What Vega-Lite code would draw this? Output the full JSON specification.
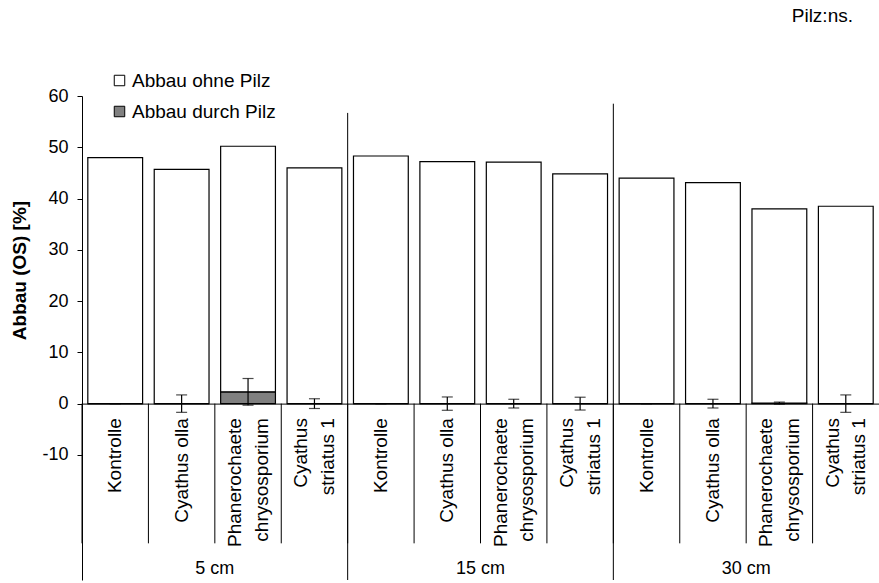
{
  "$schema": "https://vega.github.io/schema/vega-lite/v6.json",
  "width": 797,
  "height": 484,
  "autosize": {"type": "none"},
  "padding": {"left": 82, "top": 96, "right": 0, "bottom": 3},
  "background": "white",
  "title": {"text": "Pilz:ns.", "anchor": "end", "frame": "group", "orient": "top", "offset": 30, "dx": -26, "fontSize": 19, "fontWeight": "normal", "font": "Liberation Sans", "color": "black", "baseline": "alphabetic"},
  "config": {"view": {"stroke": null}, "font": "Liberation Sans"},
  "data": {"values": [
    {"id": "5 cm|Kontrolle", "depth": "5 cm", "fungus": "Kontrolle", "Abbau ohne Pilz": 48.0, "Abbau durch Pilz": 0.0, "err": 0.0},
    {"id": "5 cm|Cyathus olla", "depth": "5 cm", "fungus": "Cyathus olla", "Abbau ohne Pilz": 45.7, "Abbau durch Pilz": 0.0, "err": 1.7},
    {"id": "5 cm|Phanerochaete chrysosporium", "depth": "5 cm", "fungus": "Phanerochaete chrysosporium", "Abbau ohne Pilz": 47.9, "Abbau durch Pilz": 2.3, "err": 2.6},
    {"id": "5 cm|Cyathus striatus 1", "depth": "5 cm", "fungus": "Cyathus striatus 1", "Abbau ohne Pilz": 46.0, "Abbau durch Pilz": 0.0, "err": 0.95},
    {"id": "15 cm|Kontrolle", "depth": "15 cm", "fungus": "Kontrolle", "Abbau ohne Pilz": 48.3, "Abbau durch Pilz": 0.0, "err": 0.0},
    {"id": "15 cm|Cyathus olla", "depth": "15 cm", "fungus": "Cyathus olla", "Abbau ohne Pilz": 47.2, "Abbau durch Pilz": 0.0, "err": 1.3},
    {"id": "15 cm|Phanerochaete chrysosporium", "depth": "15 cm", "fungus": "Phanerochaete chrysosporium", "Abbau ohne Pilz": 47.1, "Abbau durch Pilz": 0.0, "err": 0.85},
    {"id": "15 cm|Cyathus striatus 1", "depth": "15 cm", "fungus": "Cyathus striatus 1", "Abbau ohne Pilz": 44.8, "Abbau durch Pilz": 0.0, "err": 1.25},
    {"id": "30 cm|Kontrolle", "depth": "30 cm", "fungus": "Kontrolle", "Abbau ohne Pilz": 44.0, "Abbau durch Pilz": 0.0, "err": 0.0},
    {"id": "30 cm|Cyathus olla", "depth": "30 cm", "fungus": "Cyathus olla", "Abbau ohne Pilz": 43.1, "Abbau durch Pilz": 0.0, "err": 0.85},
    {"id": "30 cm|Phanerochaete chrysosporium", "depth": "30 cm", "fungus": "Phanerochaete chrysosporium", "Abbau ohne Pilz": 37.9, "Abbau durch Pilz": 0.1, "err": 0.2},
    {"id": "30 cm|Cyathus striatus 1", "depth": "30 cm", "fungus": "Cyathus striatus 1", "Abbau ohne Pilz": 38.5, "Abbau durch Pilz": 0.0, "err": 1.7}
  ]},
  "layer": [
    {
      "transform": [{"fold": ["Abbau durch Pilz", "Abbau ohne Pilz"], "as": ["Teil", "Wert"]}],
      "mark": {"type": "bar", "stroke": "black", "strokeWidth": 1.2},
      "encoding": {
        "x": {
          "field": "id", "type": "nominal", "sort": null, "title": null,
          "scale": {"paddingInner": 0.175, "paddingOuter": 0.0875},
          "axis": {
            "orient": "bottom", "offset": -176.4, "title": null,
            "domain": true, "domainColor": "black", "domainWidth": 1,
            "ticks": false, "tickSize": 0,
            "labelAngle": -90, "labelAlign": "right", "labelBaseline": "middle",
            "labelPadding": 14, "labelFontSize": 19, "labelColor": "black", "labelLineHeight": 26.5,
            "labelOffset": {"condition": {"test": "indexof(datum.value, 'Phanerochaete') >= 0 || indexof(datum.value, 'striatus') >= 0", "value": -13}, "value": 0},
            "labelLimit": 400, "labelOverlap": false, "labelFont": "Liberation Sans",
            "labelExpr": "indexof(datum.value, 'Phanerochaete') >= 0 ? ['Phanerochaete', 'chrysosporium'] : indexof(datum.value, 'striatus') >= 0 ? ['Cyathus', 'striatus 1'] : split(datum.value, '|')[1]"
          }
        },
        "y": {
          "field": "Wert", "type": "quantitative", "stack": "zero", "title": "Abbau (OS) [%]",
          "scale": {"domain": [-34.4, 60], "nice": false, "zero": false},
          "axis": {
            "values": [-10, 0, 10, 20, 30, 40, 50, 60], "title": "Abbau (OS) [%]",
            "labelExpr": "'' + datum.value",
            "titleFontSize": 19, "titleFontWeight": "bold", "titleColor": "black", "titleFont": "Liberation Sans",
            "titleX": -53, "titleY": 174, "titleBaseline": "bottom", "titleAlign": "center", "titleAngle": 270,
            "labelFontSize": 18, "labelColor": "black", "labelPadding": 9, "labelFont": "Liberation Sans",
            "tickColor": "black", "tickSize": 5, "domainColor": "black", "grid": false, "labelFlush": false
          }
        },
        "color": {
          "field": "Teil", "type": "nominal",
          "scale": {"domain": ["Abbau ohne Pilz", "Abbau durch Pilz"], "range": ["#ffffff", "#808080"]},
          "legend": {
            "orient": "none", "legendX": 28, "legendY": -25, "title": null, "padding": 0,
            "symbolType": "square", "symbolSize": 110, "symbolStrokeColor": "black", "symbolStrokeWidth": 1,
            "labelFontSize": 19, "labelColor": "black", "labelOffset": 3, "rowPadding": 11, "labelFont": "Liberation Sans"
          }
        },
        "order": {"field": "Teil", "sort": "ascending"}
      }
    },
    {
      "mark": {"type": "rule", "color": "black", "strokeWidth": 1},
      "encoding": {
        "x": {"field": "id", "type": "nominal", "sort": null, "title": null, "bandPosition": -0.106},
        "y": {"datum": 0, "type": "quantitative", "title": "Abbau (OS) [%]"},
        "y2": {"datum": -27.25}
      }
    },
    {
      "transform": [{"filter": "datum.fungus === 'Kontrolle' && datum.depth === '15 cm'"}],
      "mark": {"type": "rule", "color": "black", "strokeWidth": 1},
      "encoding": {
        "x": {"field": "id", "type": "nominal", "sort": null, "title": null, "bandPosition": -0.106},
        "y": {"datum": -34.4, "type": "quantitative", "title": "Abbau (OS) [%]"},
        "y2": {"datum": 56.7}
      }
    },
    {
      "transform": [{"filter": "datum.fungus === 'Kontrolle' && datum.depth === '30 cm'"}],
      "mark": {"type": "rule", "color": "black", "strokeWidth": 1},
      "encoding": {
        "x": {"field": "id", "type": "nominal", "sort": null, "title": null, "bandPosition": -0.106},
        "y": {"datum": -34.4, "type": "quantitative", "title": "Abbau (OS) [%]"},
        "y2": {"datum": 58.5}
      }
    },
    {
      "mark": {"type": "errorbar", "ticks": {"size": 11, "color": "black"}, "color": "black", "thickness": 1.2},
      "encoding": {
        "x": {"field": "id", "type": "nominal", "sort": null, "title": null},
        "y": {"field": "Abbau durch Pilz", "type": "quantitative", "title": "Abbau (OS) [%]"},
        "yError": {"field": "err"}
      }
    },
    {
      "transform": [{"filter": "datum.fungus === 'Phanerochaete chrysosporium'"}],
      "mark": {"type": "text", "fontSize": 18, "color": "black", "align": "center", "baseline": "middle", "font": "Liberation Sans"},
      "encoding": {
        "x": {"field": "id", "type": "nominal", "sort": null, "title": null, "bandPosition": -0.106},
        "y": {"datum": -32.3, "type": "quantitative", "title": "Abbau (OS) [%]"},
        "text": {"field": "depth"}
      }
    }
  ]
}
